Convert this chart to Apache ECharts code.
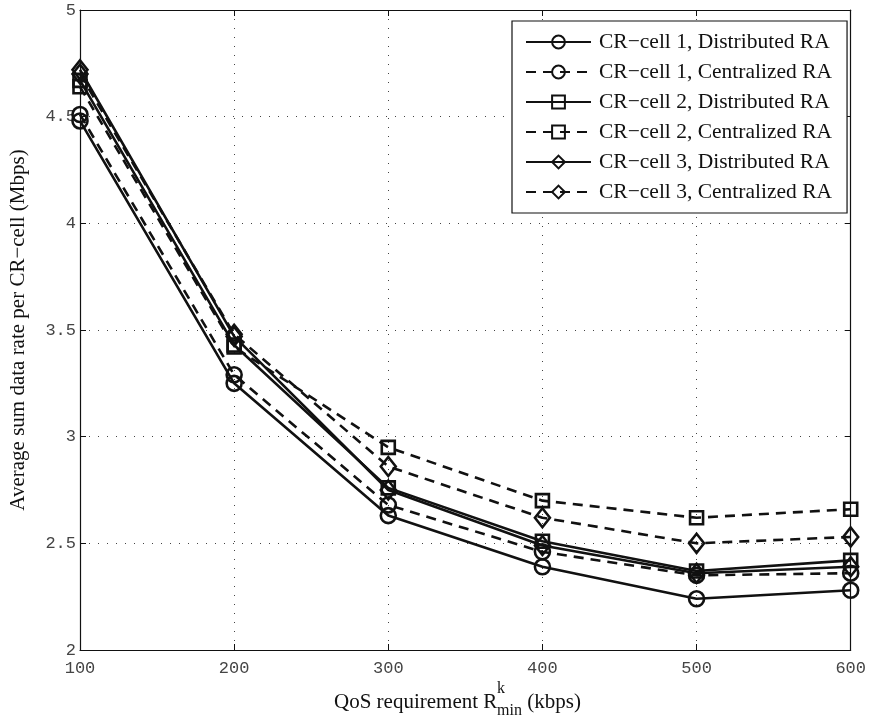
<!DOCTYPE html>
<html>
<head>
<meta charset="utf-8">
<script src="https://cdn.jsdelivr.net/npm/echarts@6/dist/echarts.min.js"></script>
<style>
html,body{margin:0;padding:0;background:#fff;}
#main{width:869px;height:719px;}
</style>
</head>
<body>
<div id="main"></div>
<script>
const xValues = [100, 200, 300, 400, 500, 600];
const seriesNames = [
  'CR\u2212cell 1, Distributed RA',
  'CR\u2212cell 1, Centralized RA',
  'CR\u2212cell 2, Distributed RA',
  'CR\u2212cell 2, Centralized RA',
  'CR\u2212cell 3, Distributed RA',
  'CR\u2212cell 3, Centralized RA'
];
const cell1Distributed = [4.48, 3.25, 2.63, 2.39, 2.24, 2.28];
const cell1Centralized = [4.51, 3.29, 2.68, 2.46, 2.35, 2.36];
const cell2Distributed = [4.67, 3.43, 2.76, 2.51, 2.37, 2.42];
const cell2Centralized = [4.64, 3.42, 2.95, 2.70, 2.62, 2.66];
const cell3Distributed = [4.72, 3.47, 2.75, 2.49, 2.36, 2.39];
const cell3Centralized = [4.70, 3.48, 2.86, 2.62, 2.50, 2.53];
const yTicks = [2, 2.5, 3, 3.5, 4, 4.5, 5];

const allValues = [cell1Distributed, cell1Centralized, cell2Distributed, cell2Centralized, cell3Distributed, cell3Centralized];
const symbols = ['circle', 'circle', 'rect', 'rect', 'diamond', 'diamond'];
const symbolSizes = [15, 15, 13, 13, [15, 19], [15, 19]];
const dashed = [false, true, false, true, false, true];

const chart = echarts.init(document.getElementById('main'), null, {renderer: 'canvas'});

const tickFont = {fontFamily: 'Liberation Mono', fontSize: 17, color: '#444'};
const gridDot = {color: '#444', width: 1, type: [1, 8]};

const series = allValues.map((vals, i) => ({
  name: seriesNames[i],
  type: 'line',
  data: xValues.map((x, j) => [x, vals[j]]),
  symbol: symbols[i],
  symbolSize: symbolSizes[i],
  z: 3,
  lineStyle: {color: '#111', width: 2.6, type: dashed[i] ? [10, 7] : 'solid'},
  itemStyle: {color: 'rgba(255,255,255,0)', borderColor: '#111', borderWidth: 2.6},
  emphasis: {disabled: true},
  animation: false
}));

chart.setOption({
  animation: false,
  backgroundColor: '#fff',
  grid: {left: 71, right: 17, top: 10, bottom: 69},
  legend: {
    data: seriesNames,
    orient: 'vertical',
    left: 512,
    top: 21,
    itemWidth: 65,
    itemHeight: 16,
    itemGap: 8,
    padding: [10, 15, 10, 13],
    backgroundColor: '#fff',
    borderColor: '#111',
    borderWidth: 1.2,
    textStyle: {fontFamily: 'Liberation Serif', fontSize: 21.5, color: '#111', lineHeight: 21, padding: [0, 0, 0, 3]},
    selectedMode: false
  },
  xAxis: [{
    type: 'value', min: 100, max: 600, interval: 100,
    axisLine: {show: true, lineStyle: {color: '#111', width: 1.2}},
    axisTick: {show: true, inside: true, length: 6, lineStyle: {color: '#111'}},
    axisLabel: Object.assign({margin: 10}, tickFont),
    splitLine: {show: true, lineStyle: gridDot}
  }, {
    type: 'value', min: 100, max: 600, interval: 100, position: 'top',
    axisLine: {show: true, onZero: false, lineStyle: {color: '#111', width: 1.2}},
    axisTick: {show: true, inside: true, length: 6, lineStyle: {color: '#111'}},
    axisLabel: {show: false},
    splitLine: {show: false}
  }],
  yAxis: [{
    type: 'value', min: yTicks[0], max: yTicks[yTicks.length - 1], interval: 0.5,
    axisLine: {show: true, onZero: false, lineStyle: {color: '#111', width: 1.2}},
    axisTick: {show: true, inside: true, length: 6, lineStyle: {color: '#111'}},
    axisLabel: Object.assign({margin: 4}, tickFont),
    splitLine: {show: true, lineStyle: gridDot},
    name: 'Average sum data rate per CR\u2212cell (Mbps)',
    nameLocation: 'middle',
    nameGap: 51,
    nameTextStyle: {fontFamily: 'Liberation Serif', fontSize: 21, color: '#111'}
  }, {
    type: 'value', min: yTicks[0], max: yTicks[yTicks.length - 1], interval: 0.5, position: 'right',
    axisLine: {show: true, onZero: false, lineStyle: {color: '#111', width: 1.2}},
    axisTick: {show: true, inside: true, length: 6, lineStyle: {color: '#111'}},
    axisLabel: {show: false},
    splitLine: {show: false}
  }],
  graphic: [{
    type: 'group',
    left: 334,
    top: 681,
    children: [
      {type: 'text', x: 0, y: 11, style: {text: 'QoS requirement R', font: '21px "Liberation Serif"', fill: '#111'}},
      {type: 'text', x: 163, y: 0, style: {text: 'k', font: '16px "Liberation Serif"', fill: '#111'}},
      {type: 'text', x: 163, y: 22, style: {text: 'min', font: '16px "Liberation Serif"', fill: '#111'}},
      {type: 'text', x: 188, y: 11, style: {text: ' (kbps)', font: '21px "Liberation Serif"', fill: '#111'}}
    ]
  }],
  series: series
});
</script>
</body>
</html>
